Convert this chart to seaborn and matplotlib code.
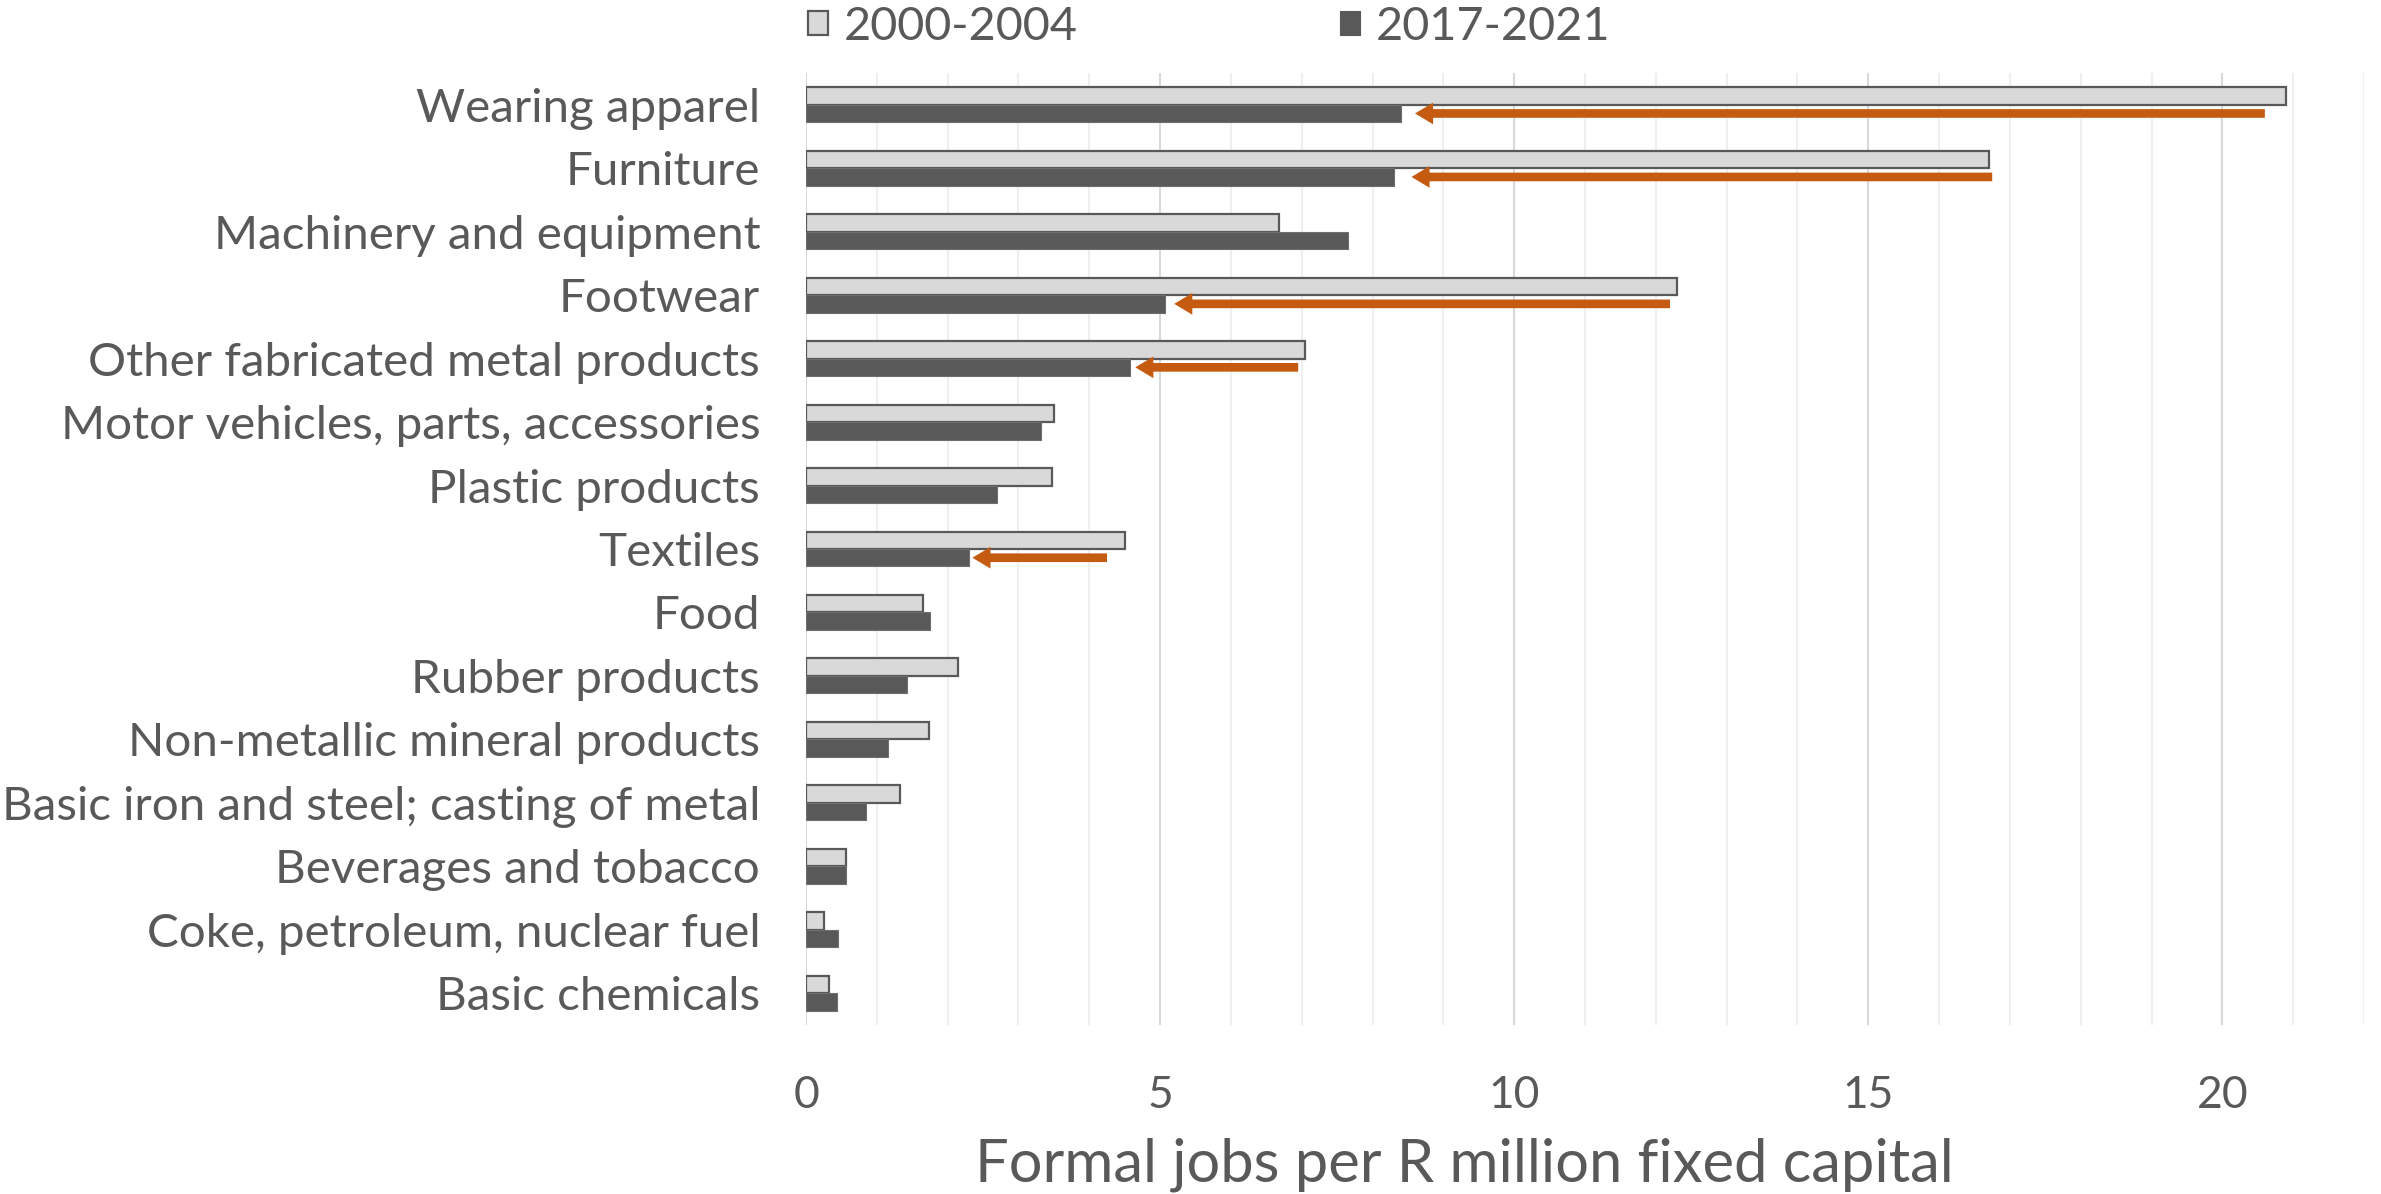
import matplotlib
matplotlib.use("Agg")
import numpy as np
import pandas as pd
import seaborn as sns
import matplotlib.pyplot as plt
from matplotlib import font_manager
from matplotlib.font_manager import FontProperties
from matplotlib.textpath import TextPath
from matplotlib.patches import Patch
from matplotlib.ticker import MultipleLocator

# ---- data -----------------------------------------------------------------
categories = [
    "Wearing apparel",
    "Furniture",
    "Machinery and equipment",
    "Footwear",
    "Other fabricated metal products",
    "Motor vehicles, parts, accessories",
    "Plastic products",
    "Textiles",
    "Food",
    "Rubber products",
    "Non-metallic mineral products",
    "Basic iron and steel; casting of metal",
    "Beverages and tobacco",
    "Coke, petroleum, nuclear fuel",
    "Basic chemicals",
]
jobs_2000_2004 = [20.9, 16.7, 6.68, 12.3, 7.05, 3.5, 3.47, 4.5, 1.65, 2.15, 1.74, 1.33, 0.57, 0.25, 0.33]
jobs_2017_2021 = [8.4, 8.3, 7.65, 5.07, 4.57, 3.32, 2.7, 2.3, 1.75, 1.42, 1.16, 0.85, 0.56, 0.45, 0.44]
periods = ["2000-2004", "2017-2021"]

# sectors where job intensity fell sharply, marked with arrows
arrow_categories = ["Wearing apparel", "Furniture", "Footwear",
                    "Other fabricated metal products", "Textiles"]
arrow_from = [20.6, 16.75, 12.2, 6.95, 4.25]
arrow_to = [8.6, 8.55, 5.2, 4.65, 2.35]

x_label = "Formal jobs per R million fixed capital"
x_ticks = [0, 5, 10, 15, 20]

# ---- style ----------------------------------------------------------------
DPI = 100
W_PX, H_PX = 2381, 1194
LIGHT, DARK = "#D9D9D9", "#595959"
TEXT = "#595959"
ORANGE = "#C55A11"

sns.set_theme(style="white")
available = {f.name for f in font_manager.fontManager.ttflist}
FONT = next(f for f in ["Lato", "Open Sans", "Liberation Sans", "DejaVu Sans"] if f in available)
plt.rcParams["font.family"] = [FONT, "DejaVu Sans"]


def fit_size(text, target_px, ref=40.0):
    """Font size (pt) that makes `text` about `target_px` pixels wide."""
    tp = TextPath((0, 0), text, size=ref, prop=FontProperties(family=FONT))
    width_px = tp.get_extents().width * DPI / 72.0
    return ref * target_px / width_px


label_size = fit_size("Basic iron and steel; casting of metal", 750)
legend_size = fit_size("2000-2004", 231)
tick_size = fit_size("20", 48)
title_size = fit_size(x_label, 969)

df = pd.DataFrame({
    "category": categories * 2,
    "value": jobs_2000_2004 + jobs_2017_2021,
    "period": [periods[0]] * len(categories) + [periods[1]] * len(categories),
})

fig = plt.figure(figsize=(W_PX / DPI, H_PX / DPI), dpi=DPI)
ax = fig.add_axes([806 / W_PX, 1 - 1025 / H_PX, 1558 / W_PX, 952 / H_PX])

sns.barplot(
    data=df, y="category", x="value", hue="period", order=categories,
    hue_order=periods, palette={periods[0]: LIGHT, periods[1]: DARK},
    orient="h", width=0.55, saturation=1, errorbar=None, legend=False, ax=ax,
)

# bar outlines
for patch in ax.containers[0]:
    patch.set_edgecolor("#595959")
    patch.set_linewidth(1.6)
for patch in ax.containers[1]:
    patch.set_edgecolor("#6E6E6E")
    patch.set_linewidth(0.8)

# arrows from the earlier value back to the recent value
dark_bars = {cat: p for cat, p in zip(categories, ax.containers[1])}
for cat, x0, x1 in zip(arrow_categories, arrow_from, arrow_to):
    bar = dark_bars[cat]
    y = bar.get_y() + bar.get_height() / 2
    ax.annotate(
        "", xy=(x1, y), xytext=(x0, y),
        arrowprops=dict(arrowstyle="simple,head_length=0.5,head_width=0.6,tail_width=0.24",
                        mutation_scale=26, color=ORANGE, lw=0,
                        shrinkA=0, shrinkB=0),
        zorder=5,
    )

# axes
ax.set_xlim(0, 22)
ax.set_ylim(len(categories) - 0.5, -0.5)
ax.set_xticks(x_ticks)
ax.xaxis.set_minor_locator(MultipleLocator(1))
ax.set_axisbelow(True)
ax.grid(which="major", axis="x", color="#D9D9D9", lw=1.5)
ax.grid(which="minor", axis="x", color="#EFEFEF", lw=1.5)
ax.grid(which="major", axis="y", visible=False)
for s in ax.spines.values():
    s.set_visible(False)
ax.tick_params(axis="y", length=0, pad=33, labelsize=label_size, labelcolor=TEXT)
ax.tick_params(axis="x", which="both", length=0, pad=36, labelsize=tick_size, labelcolor=TEXT)
ax.set_xlabel("")
ax.set_ylabel("")

fig.text(1464 / W_PX, 1 - 1165 / H_PX, x_label, ha="center", va="center",
         fontsize=title_size, color=TEXT)

# legend
handles = [Patch(facecolor=LIGHT, edgecolor="#595959", lw=1.6),
           Patch(facecolor=DARK, edgecolor=DARK, lw=0.8)]
fig.legend(
    handles, periods, loc="center left", bbox_to_anchor=(808 / W_PX, 1 - 27 / H_PX),
    ncol=2, frameon=False, fontsize=legend_size, labelcolor=TEXT,
    handlelength=0.42, handleheight=0.42, handletextpad=0.35,
    columnspacing=5.6, borderpad=0, borderaxespad=0,
)

fig.savefig("out.png", dpi=DPI)
